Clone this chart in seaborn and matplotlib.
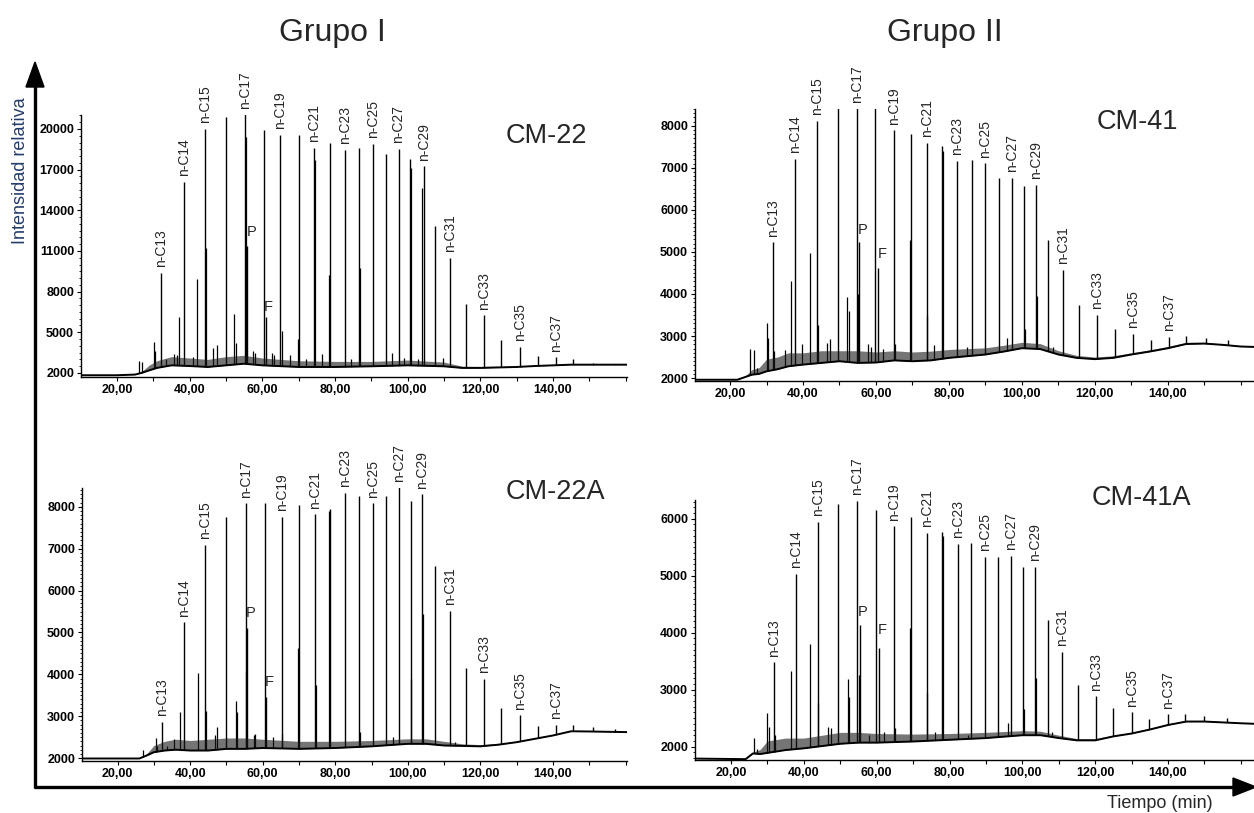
import numpy as np
import pandas as pd
import matplotlib
matplotlib.use("Agg")
import matplotlib.pyplot as plt
import seaborn as sns
from matplotlib.lines import Line2D
from matplotlib.patches import Polygon
from matplotlib.ticker import MultipleLocator

# ---------------- data ----------------
alkane_labels = ["n-C13", "n-C14", "n-C15", "n-C17", "n-C19", "n-C21", "n-C23",
                 "n-C25", "n-C27", "n-C29", "n-C31", "n-C33", "n-C35", "n-C37"]
alkane_index = [0, 1, 2, 4, 8, 10, 12, 14, 16, 18, 20, 22, 24, 26]
x_tick_vals = [20, 40, 60, 80, 100, 120, 140]
x_tick_labels = ["20,00", "40,00", "60,00", "80,00", "100,00", "120,00", "140,00"]

# CM-22 (Grupo I, top)
cm22_peak_t = [32.2, 38.4, 44.2, 50.0, 55.3, 55.7, 60.4, 60.9, 65.0, 70.0, 74.3, 78.6, 82.7, 86.6, 90.6,
               94.0, 97.5, 100.8, 104.4, 107.6, 111.6, 116.1, 121.0, 125.8, 130.9, 135.8, 140.8, 145.6, 151.0, 157.0]
cm22_peak_h = [9390, 16100, 20000, 20860, 21100, 11350, 19930, 6150, 19570, 19520, 18620, 18980, 18470, 18620, 18910,
               18130, 18540, 17760, 17250, 12860, 10490, 7120, 6270, 4460, 3950, 3240, 3150, 3000, 2760, 2660]
cm22_minor_t = [26.0, 26.9, 30.2, 30.5, 33.5, 35.8, 36.5, 37.1, 40.8, 42.1, 44.4, 46.5, 47.5, 52.3, 52.8, 55.5,
                57.5, 58.0, 62.7, 63.3, 65.3, 67.5, 69.7, 72.0, 74.5, 76.5, 78.4, 84.5, 86.8, 95.8, 99.0, 101.0,
                103.0, 104.1, 109.8]
cm22_minor_h = [2850, 2800, 4270, 3600, 3000, 3370, 3300, 6100, 3200, 8900, 11200, 3830, 4070, 6340, 4200, 19400,
                3610, 3500, 3460, 3300, 5120, 3300, 4510, 3000, 17740, 3410, 9200, 3000, 9760, 3500, 3100, 17150,
                3000, 15660, 3100]
cm22_base_t = [10.1, 20, 25, 27, 29, 31, 35, 40, 45, 50, 55, 60, 70, 80, 90, 100, 110, 115, 120, 130, 135,
               140, 145, 160.4]
cm22_base_v = [1830, 1830, 1880, 2020, 2200, 2370, 2560, 2510, 2440, 2560, 2680, 2560, 2440, 2440, 2490, 2560,
               2490, 2370, 2370, 2440, 2510, 2560, 2610, 2610]
cm22_grass_v = [1830, 1830, 1900, 2150, 2600, 2900, 3200, 3100, 3000, 3200, 3300, 3100, 2900, 2850, 2850, 2950,
                2800, 2500, 2480, 2500, 2560, 2600, 2640, 2620]
cm22_yticks = [2000, 5000, 8000, 11000, 14000, 17000, 20000]

# CM-41 (Grupo II, top)
cm41_peak_t = [31.8, 37.9, 43.8, 49.5, 54.8, 55.4, 59.8, 60.6, 64.9, 69.7, 73.9, 78.1, 82.3, 86.3, 90.0,
               93.7, 97.2, 100.6, 103.8, 107.2, 111.2, 115.7, 120.5, 125.5, 130.4, 135.5, 140.4, 145.1, 150.5, 156.6]
cm41_peak_h = [5230, 7220, 8120, 8450, 8450, 5230, 8450, 4620, 7890, 7800, 7590, 7530, 7170, 7190, 7110,
               6770, 6770, 6580, 6600, 5280, 4580, 3730, 3510, 3170, 3050, 2910, 2980, 2990, 2950, 2900]
cm41_minor_t = [25.6, 26.7, 27.5, 30.1, 30.4, 32.0, 35.0, 36.6, 39.8, 41.8, 44.0, 46.7, 47.5, 52.1, 52.5, 55.1,
                57.8, 58.5, 62.0, 65.1, 69.4, 74.1, 76.0, 78.3, 85.0, 96.0, 100.8, 104.0, 108.5]
cm41_minor_h = [2690, 2660, 2250, 3310, 2950, 2650, 2670, 4300, 2800, 4970, 3270, 2830, 2920, 3930, 3600, 3990,
                2800, 2750, 2700, 2820, 5280, 3510, 2780, 7400, 2750, 2950, 3170, 3960, 2750]
cm41_base_t = [10.4, 22, 24, 26, 28, 30, 33, 36, 40, 45, 50, 55, 60, 65, 70, 75, 80, 85, 90, 95, 100, 105,
               110, 115, 120, 125, 130, 135, 140, 145, 150, 155, 160, 164]
cm41_base_v = [1960, 1960, 2020, 2080, 2100, 2160, 2210, 2280, 2320, 2360, 2400, 2360, 2370, 2420, 2400, 2420,
               2480, 2520, 2560, 2630, 2710, 2690, 2560, 2480, 2450, 2480, 2560, 2630, 2710, 2810, 2820, 2790,
               2750, 2740]
cm41_grass_v = [1960, 1960, 2040, 2200, 2250, 2450, 2500, 2600, 2600, 2650, 2650, 2650, 2620, 2650, 2620, 2640,
                2680, 2700, 2720, 2780, 2850, 2820, 2650, 2540, 2500, 2530, 2600, 2670, 2750, 2850, 2850, 2810,
                2770, 2750]
cm41_yticks = [2000, 3000, 4000, 5000, 6000, 7000, 8000]

# CM-22A (Grupo I, bottom)
cm22a_peak_t = [32.2, 38.4, 44.2, 50.0, 55.3, 55.8, 60.5, 60.9, 65.2, 70.1, 74.4, 78.6, 82.7, 86.6, 90.5,
                94.0, 97.6, 100.8, 104.0, 107.6, 111.6, 116.1, 121.0, 125.8, 130.9, 135.8, 140.8, 145.6, 151.0, 157.0]
cm22a_peak_h = [2870, 5240, 7090, 7760, 8080, 5100, 8080, 3450, 7760, 8040, 7820, 7940, 8340, 8270, 8080,
                8270, 8490, 8140, 8300, 6590, 5520, 4140, 3890, 3190, 3020, 2760, 2790, 2790, 2740, 2700]
cm22a_minor_t = [27.0, 30.5, 30.8, 33.5, 35.5, 37.1, 42.1, 44.4, 46.8, 47.5, 52.6, 52.9, 55.5, 57.5, 58.0,
                 62.8, 65.3, 69.7, 74.6, 78.4, 86.8, 96.0, 101.0, 104.2, 113.0]
cm22a_minor_h = [2200, 2480, 2300, 2300, 2450, 3100, 4030, 3130, 2560, 2750, 3370, 3100, 4050, 2550, 2580,
                 2500, 2580, 4620, 3750, 7900, 2620, 2500, 3890, 5440, 2380]
cm22a_base_t = [10.2, 26, 28, 30, 33, 36, 40, 45, 50, 55, 60, 70, 80, 90, 100, 105, 110, 115, 120, 125, 130,
                135, 140, 145, 150, 160.4]
cm22a_base_v = [1990, 1990, 2060, 2140, 2180, 2200, 2180, 2180, 2220, 2220, 2240, 2220, 2240, 2280, 2340, 2340,
                2300, 2290, 2280, 2320, 2380, 2460, 2540, 2640, 2635, 2620]
cm22a_grass_v = [1990, 1990, 2100, 2300, 2400, 2450, 2420, 2450, 2480, 2480, 2450, 2400, 2400, 2420, 2460, 2460,
                 2400, 2340, 2320, 2350, 2400, 2480, 2560, 2660, 2650, 2630]
cm22a_yticks = [2000, 3000, 4000, 5000, 6000, 7000, 8000]

# CM-41A (Grupo II, bottom)
cm41a_peak_t = [31.8, 37.8, 43.8, 49.5, 54.5, 55.3, 59.7, 60.5, 64.7, 69.3, 73.7, 77.9, 82.2, 85.9, 89.8,
                93.3, 97.0, 100.2, 103.5, 106.9, 110.9, 115.4, 120.2, 125.0, 130.0, 134.9, 139.9, 144.7, 150.0, 156.2]
cm41a_peak_h = [3480, 5030, 5950, 6260, 6320, 4130, 6160, 3730, 5870, 6030, 5750, 5770, 5560, 5570, 5330,
                5330, 5350, 5160, 5160, 4230, 3670, 3080, 2880, 2670, 2600, 2490, 2570, 2570, 2530, 2500]
cm41a_minor_t = [26.4, 27.0, 30.0, 30.3, 32.0, 36.4, 41.8, 44.0, 46.7, 47.5, 52.2, 52.5, 55.0, 58.0, 62.0,
                 65.0, 69.1, 73.9, 76.0, 78.1, 85.0, 96.0, 100.5, 103.7, 108.0]
cm41a_minor_h = [2150, 1950, 2590, 2350, 2200, 3320, 3800, 2760, 2350, 2330, 3190, 2870, 3260, 2200, 2250,
                 2330, 4080, 2950, 2250, 5700, 2200, 2410, 2660, 3200, 2250]
cm41a_base_t = [10.1, 24, 26, 28, 30, 35, 40, 45, 50, 55, 60, 70, 80, 90, 100, 105, 110, 115, 120, 125, 130,
                135, 140, 145, 150, 160, 164]
cm41a_base_v = [1790, 1780, 1880, 1870, 1890, 1940, 1970, 2010, 2050, 2070, 2070, 2090, 2120, 2150, 2200, 2200,
                2150, 2110, 2110, 2180, 2230, 2300, 2380, 2440, 2440, 2410, 2400]
cm41a_grass_v = [1790, 1780, 1900, 1950, 2100, 2150, 2150, 2200, 2250, 2250, 2230, 2220, 2230, 2250, 2280, 2270,
                 2200, 2140, 2140, 2200, 2250, 2320, 2400, 2460, 2460, 2420, 2400]
cm41a_yticks = [2000, 3000, 4000, 5000, 6000]

# ---------------- figure ----------------
sns.set_theme(style="white")
plt.rcParams["font.family"] = ["Liberation Sans", "DejaVu Sans"]

W, H = 1254, 813
fig = plt.figure(figsize=(W / 100, H / 100), dpi=100)


def fx(x):
    return x / W


def fy(y):
    return 1 - y / H


def fbox(l, t, r, b):
    return [l / W, 1 - b / H, (r - l) / W, (b - t) / H]


def draw_panel(box, xlim, ylim, yticks, yminor, base_t, base_v, grass_v, peak_t, peak_h,
               minor_t, minor_h, p_xy, f_xy):
    ax = fig.add_axes(fbox(*box))
    ax.set_xlim(*xlim)
    ax.set_ylim(*ylim)
    bottom, top = ylim
    ax.vlines(peak_t, bottom, peak_h, color="black", lw=1.0, zorder=1)
    ax.vlines(minor_t, bottom, minor_h, color="black", lw=0.9, zorder=1)
    ax.fill_between(base_t, bottom, base_v, color="white", lw=0, zorder=1.2)
    ax.fill_between(base_t, base_v, grass_v, color="#1a1a1a", alpha=0.6, lw=0, zorder=2.8)
    sns.lineplot(x=base_t, y=base_v, ax=ax, color="black", lw=1.4,
                 estimator=None, sort=False, zorder=3)
    for name, idx in zip(alkane_labels, alkane_index):
        y = min(peak_h[idx], top)
        ax.annotate(name, (peak_t[idx], y), xytext=(0, 4), textcoords="offset points",
                    rotation=90, ha="center", va="bottom", fontsize=10,
                    annotation_clip=False)
    ax.text(p_xy[0], p_xy[1], "P", ha="center", va="center", fontsize=10.5)
    ax.text(f_xy[0], f_xy[1], "F", ha="center", va="center", fontsize=10.5)

    for s in ["top", "right"]:
        ax.spines[s].set_visible(False)
    for s in ["left", "bottom"]:
        ax.spines[s].set_color("black")
        ax.spines[s].set_linewidth(1.0)
    ax.set_xticks(x_tick_vals, x_tick_labels)
    ax.set_yticks(yticks, [str(v) for v in yticks])
    ax.xaxis.set_minor_locator(MultipleLocator(10))
    ax.yaxis.set_minor_locator(MultipleLocator(yminor))
    ax.tick_params(which="both", bottom=True, left=True, direction="out", colors="black")
    ax.tick_params(which="major", length=3, width=0.8, labelsize=9, pad=2)
    ax.tick_params(which="minor", length=1.6, width=0.6)
    ax.tick_params(axis="x", which="minor", length=3, width=0.8)
    for lbl in ax.get_xticklabels() + ax.get_yticklabels():
        lbl.set_fontweight("bold")
    ax.set_xlabel("")
    ax.set_ylabel("")
    ax.patch.set_alpha(0)
    return ax


draw_panel((81, 115, 627, 377), (10.1, 160.4), (1700, 21030), cm22_yticks, 500,
           cm22_base_t, cm22_base_v, cm22_grass_v, cm22_peak_t, cm22_peak_h,
           cm22_minor_t, cm22_minor_h, (57.2, 12420), (61.6, 6830))
draw_panel((695, 109, 1254, 381), (10.4, 163.6), (1930, 8400), cm41_yticks, 100,
           cm41_base_t, cm41_base_v, cm41_grass_v, cm41_peak_t, cm41_peak_h,
           cm41_minor_t, cm41_minor_h, (56.4, 5510), (61.6, 4960))
draw_panel((82, 488, 627, 761), (10.2, 160.4), (1930, 8450), cm22a_yticks, 100,
           cm22a_base_t, cm22a_base_v, cm22a_grass_v, cm22a_peak_t, cm22a_peak_h,
           cm22a_minor_t, cm22a_minor_h, (56.7, 5460), (61.8, 3810))
draw_panel((695, 500, 1254, 760), (10.1, 163.6), (1765, 6330), cm41a_yticks, 100,
           cm41a_base_t, cm41a_base_v, cm41a_grass_v, cm41a_peak_t, cm41a_peak_h,
           cm41a_minor_t, cm41a_minor_h, (56.2, 4370), (61.6, 4050))

# sample names
fig.text(fx(506), fy(136), "CM-22", ha="left", va="center", fontsize=19.5)
fig.text(fx(1097), fy(122), "CM-41", ha="left", va="center", fontsize=19.5)
fig.text(fx(506), fy(492), "CM-22A", ha="left", va="center", fontsize=19.5)
fig.text(fx(1092), fy(498), "CM-41A", ha="left", va="center", fontsize=19.5)

# group titles
fig.text(fx(332), fy(33), "Grupo I", ha="center", va="center", fontsize=23)
fig.text(fx(945), fy(33), "Grupo II", ha="center", va="center", fontsize=23)

# big axes arrows
fig.add_artist(Line2D([fx(35), fx(35)], [fy(788), fy(82)], color="black", lw=2.4,
                      solid_capstyle="butt"))
fig.add_artist(Polygon([[fx(35), fy(62)], [fx(26), fy(87)], [fx(44), fy(87)]],
                       closed=True, color="black", transform=fig.transFigure))
fig.add_artist(Line2D([fx(34), fx(1238)], [fy(787), fy(787)], color="black", lw=2.4,
                      solid_capstyle="butt"))
fig.add_artist(Polygon([[fx(1256), fy(787)], [fx(1233), fy(778)], [fx(1233), fy(796)]],
                       closed=True, color="black", transform=fig.transFigure))

fig.text(fx(21), fy(171), "Intensidad relativa", rotation=90, ha="center", va="center",
         fontsize=13, color="#243c6b")
fig.text(fx(1160), fy(803), "Tiempo (min)", ha="center", va="center", fontsize=13)

fig.savefig("out.png", dpi=100)
